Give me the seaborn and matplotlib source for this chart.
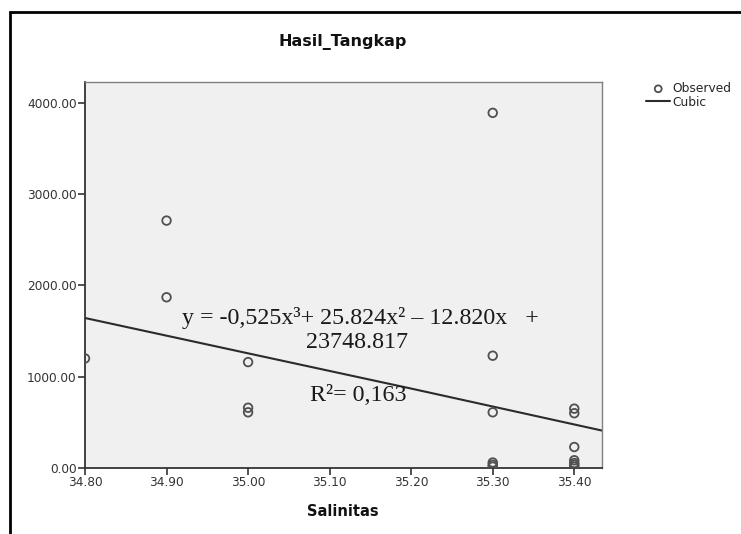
import numpy as np
import pandas as pd
import matplotlib
matplotlib.use('Agg')
import matplotlib.pyplot as plt
from matplotlib.patches import Rectangle
from matplotlib.ticker import FormatStrFormatter
import seaborn as sns

# ── DATA ─────────────────────────────────────────────
salinitas = [34.80,
             34.90, 34.90,
             35.00, 35.00, 35.00,
             35.30, 35.30, 35.30, 35.30, 35.30, 35.30,
             35.40, 35.40, 35.40, 35.40, 35.40, 35.40, 35.40]
hasil_tangkap = [1200,
                 2710, 1870,
                 1160, 660, 610,
                 3890, 1230, 610, 60, 35, 15,
                 650, 600, 230, 85, 55, 35, 15]

cubic_x = [34.80, 35.00, 35.20, 35.434]
cubic_y = [1643, 1256, 870, 410]

x_ticks = [34.80, 34.90, 35.00, 35.10, 35.20, 35.30, 35.40]
y_ticks = [0, 1000, 2000, 3000, 4000]

eq_line1 = 'y = -0,525x³+ 25.824x² – 12.820x   +'
eq_line2 = '23748.817'
r2_text = 'R²= 0,163'

obs = pd.DataFrame({'Salinitas': salinitas, 'Hasil_Tangkap': hasil_tangkap})
fit = pd.DataFrame({'Salinitas': cubic_x, 'Hasil_Tangkap': cubic_y})

sns.set_theme(style="white")
plt.rcParams['font.family'] = ['DejaVu Sans']

fig = plt.figure(figsize=(7.41, 5.34), dpi=100)
ax = fig.add_axes([85 / 741, 1 - 468 / 534, 517 / 741, 386 / 534])
ax.set_facecolor('#f0f0f0')

sns.lineplot(data=fit, x='Salinitas', y='Hasil_Tangkap', ax=ax,
             color='#2b2b2b', linewidth=1.5, label='Cubic', legend=False)
sns.scatterplot(data=obs, x='Salinitas', y='Hasil_Tangkap', ax=ax,
                marker='o', s=38, facecolor='none', edgecolor='#505050',
                linewidth=1.3, label='Observed', legend=False, zorder=3)

ax.set_xlim(34.80, 35.434)
ax.set_ylim(0, 4228)
ax.set_xticks(x_ticks)
ax.set_yticks(y_ticks)
ax.xaxis.set_major_formatter(FormatStrFormatter('%.2f'))
ax.yaxis.set_major_formatter(FormatStrFormatter('%.2f'))
ax.tick_params(axis='both', direction='out', length=5, width=1.2,
               color='#333333', labelsize=8.7, labelcolor='#333333', pad=1,
               left=True, bottom=True)
ax.set_xlabel('')
ax.set_ylabel('')

for side in ['left', 'bottom']:
    ax.spines[side].set_color('#333333')
    ax.spines[side].set_linewidth(1.3)
for side in ['top', 'right']:
    ax.spines[side].set_color('#808080')
    ax.spines[side].set_linewidth(1.0)

# equation annotation
ax.text(0.532, 0.389, eq_line1, transform=ax.transAxes, ha='center', va='center',
        fontsize=17.3, family='Liberation Serif', color='#1a1a1a')
ax.text(0.527, 0.324, eq_line2, transform=ax.transAxes, ha='center', va='center',
        fontsize=17.3, family='Liberation Serif', color='#1a1a1a')
ax.text(0.528, 0.189, r2_text, transform=ax.transAxes, ha='center', va='center',
        fontsize=17.3, family='Liberation Serif', color='#1a1a1a')

fig.text(343 / 741, 1 - 42 / 534, 'Hasil_Tangkap', ha='center', va='center',
         fontsize=11.5, fontweight='bold', color='#111111')
fig.text(343 / 741, 1 - 512 / 534, 'Salinitas', ha='center', va='center',
         fontsize=10.5, fontweight='bold', color='#111111')

handles, labels = ax.get_legend_handles_labels()
order = [labels.index('Observed'), labels.index('Cubic')]
fig.legend([handles[i] for i in order], [labels[i] for i in order],
           loc='upper left', bbox_to_anchor=(646 / 741, 1 - 82 / 534),
           frameon=False, fontsize=8.8, handlelength=2.0, handletextpad=0.15,
           labelspacing=0.05, borderaxespad=0, borderpad=0, markerscale=0.8)

# outer frame
fig.patches.append(Rectangle((10 / 741, -0.1), 1.2, 1.1 - 12 / 534,
                             transform=fig.transFigure, fill=False,
                             edgecolor='black', linewidth=2))

plt.savefig('out.png', dpi=100)
plt.close()
